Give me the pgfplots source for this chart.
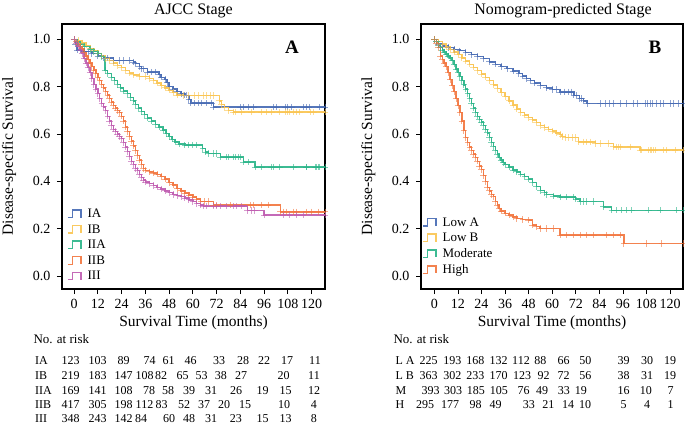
\documentclass[border=0pt]{standalone}
\usepackage{fontspec}
\setmainfont{Liberation Serif}
\usepackage{pgfplots}
\pgfplotsset{compat=1.18}
\definecolor{cblue}{RGB}{68,104,178}
\definecolor{cyellow}{RGB}{250,196,80}
\definecolor{cgreen}{RGB}{40,180,135}
\definecolor{corange}{RGB}{242,116,60}
\definecolor{cpurple}{RGB}{190,90,175}

\pgfplotsset{
  km/.style={
    scale only axis, width=263pt, height=265pt,
    ymin=-0.055, ymax=1.065,
    xtick={0,12,...,120}, ytick={0,0.2,0.4,0.6,0.8,1.0},
    /pgf/number format/assume math mode=true,
    tick label style={font=\fontsize{14}{16}\selectfont},
    xticklabel style={yshift=-2pt},
    yticklabel style={xshift=-3pt, /pgf/number format/fixed, /pgf/number format/fixed zerofill, /pgf/number format/precision=1},
    label style={font=\fontsize{15.5}{18}\selectfont},
    title style={font=\fontsize{16}{19}\selectfont},
    tick align=outside, xtick pos=bottom, ytick pos=left,
    major tick length=5pt,
    tick style={black, line width=0.8pt},
    axis line style={line width=1.1pt},
    xlabel={Survival Time (months)},
    ylabel={Disease-specific Survival},
    xlabel style={at={(axis description cs:0.5,-0.128)}, anchor=center},
    ylabel style={at={(axis description cs:-0.2015,0.5)}, anchor=center},
    legend cell align=left,
    legend style={draw=none, fill=none, font=\fontsize{13}{15.5}\selectfont,
      anchor=north west, row sep=1.5pt, column sep=4pt, inner sep=0pt},
    legend image code/.code={\draw[#1, mark=none] (0pt,-3.5pt) -- (4.5pt,-3.5pt) -- (4.5pt,4pt) -- (13pt,4pt) -- (13pt,-3.5pt);},
  },
  kmline/.style={const plot, line width=1.4pt, draw=#1, draw opacity=0.9,
    mark=+, mark size=3.2pt, mark options={draw=#1, draw opacity=0.6, line width=0.8pt}},
}

\begin{document}
\begin{tikzpicture}
\path[use as bounding box] (0pt,0pt) rectangle (685pt,-433pt);

% ---- panel A: AJCC stage
\begin{axis}[km, at={(62pt,-289pt)}, anchor=south west,
  xmin=-6.1, xmax=126.8,
  title={AJCC Stage},
  title style={at={(axis description cs:0.5,1.049)}, anchor=center, yshift=-6pt},
  legend style={at={(axis description cs:0.019,0.31)}}]
\addplot[kmline=cblue] coordinates {
(0,1.0)(0.8,0.98)(1.5,0.955)(3,0.955)(5,0.948)(7,0.948)(9,0.94)(12,0.93)(15,0.921)(17,0.921)(20,0.911)(23,0.911)(25,0.911)(28,0.911)(30,0.904)(31,0.897)(33,0.886)(34,0.876)(35,0.876)(37,0.862)(39,0.862)(41,0.862)(43,0.852)(44,0.84)(46,0.83)(47,0.818)(48,0.80)(50,0.79)(52,0.78)(54,0.77)(56,0.764)(57,0.764)(58,0.745)(59,0.731)(61,0.731)(63,0.731)(64.5,0.731)(67,0.731)(69.5,0.731)(70.5,0.714)(84,0.714)(85.5,0.714)(88,0.714)(90.6,0.714)(100.7,0.714)(102.4,0.714)(106.6,0.714)(108,0.714)(110,0.714)(115.8,0.714)(117.2,0.714)(118.8,0.714)(124.2,0.714)(126.8,0.714)};
\addlegendentry{IA}
\addplot[kmline=cyellow] coordinates {
(0,1.0)(2,0.995)(4,0.985)(6,0.975)(8,0.962)(10,0.952)(12,0.94)(14,0.93)(16,0.92)(18,0.91)(20,0.90)(22,0.89)(24,0.88)(26,0.868)(28,0.858)(30,0.85)(33,0.843)(36,0.843)(38,0.835)(40,0.825)(42,0.815)(44,0.805)(46,0.795)(48,0.785)(50,0.775)(52,0.765)(55,0.762)(58,0.762)(61,0.762)(63,0.762)(65.3,0.762)(67,0.762)(68.7,0.762)(70.4,0.762)(73.5,0.74)(74.5,0.725)(76,0.712)(78,0.70)(80.5,0.693)(81.3,0.693)(84.7,0.693)(89.7,0.693)(94.8,0.693)(97.3,0.693)(99.8,0.693)(104,0.693)(106.6,0.693)(107.7,0.693)(109,0.693)(110.8,0.693)(112.5,0.693)(114.1,0.693)(119.2,0.693)(120.9,0.693)(126.8,0.693)};
\addlegendentry{IB}
\addplot[kmline=cgreen] coordinates {
(0,1.0)(1.5,0.99)(3,0.98)(5,0.97)(8,0.958)(10,0.948)(12,0.94)(14,0.928)(15.6,0.868)(17,0.855)(19,0.84)(20.5,0.825)(22,0.81)(23.5,0.795)(25,0.782)(27,0.77)(28.5,0.755)(30,0.74)(31,0.725)(32.5,0.71)(34,0.695)(35.5,0.682)(37,0.668)(39,0.655)(41,0.64)(43,0.63)(45,0.617)(46.5,0.603)(48,0.59)(49.5,0.578)(51,0.567)(53,0.558)(56,0.553)(58,0.553)(60,0.553)(62,0.553)(65,0.538)(66.5,0.524)(68,0.518)(70.4,0.518)(72,0.518)(74,0.503)(77.1,0.503)(78,0.503)(80.5,0.503)(81.3,0.503)(83,0.503)(83.8,0.503)(85.5,0.482)(88,0.482)(91.5,0.46)(94.8,0.46)(99.8,0.46)(100.7,0.46)(104,0.46)(110.8,0.46)(117.2,0.46)(117.5,0.46)(121.7,0.46)(122.5,0.46)(123.4,0.46)(124.2,0.46)(126.8,0.46)};
\addlegendentry{IIA}
\addplot[kmline=corange] coordinates {
(0,1.0)(1,0.99)(2,0.98)(3,0.97)(4,0.96)(5,0.945)(6,0.93)(7,0.915)(8,0.90)(9,0.885)(10,0.87)(11,0.855)(12,0.84)(13,0.825)(14,0.81)(15,0.795)(16,0.78)(17,0.765)(18,0.75)(19,0.735)(20,0.72)(21,0.71)(22,0.70)(23,0.69)(24,0.675)(25,0.655)(26,0.63)(27,0.61)(28,0.59)(29,0.57)(30,0.55)(31,0.53)(32,0.51)(33,0.49)(34,0.47)(35,0.455)(36,0.447)(38,0.44)(40,0.435)(42,0.43)(44,0.42)(46,0.41)(48,0.395)(50,0.385)(52,0.37)(54,0.36)(56,0.35)(58,0.342)(60,0.333)(62,0.325)(64,0.314)(66,0.314)(68,0.314)(70.4,0.30)(72,0.30)(78.8,0.30)(88.9,0.30)(90.6,0.30)(94.8,0.30)(98.1,0.30)(104.4,0.271)(105.7,0.271)(107.4,0.271)(110.8,0.271)(112.5,0.271)(117.5,0.271)(120,0.271)(123.4,0.271)(126.8,0.271)};
\addlegendentry{IIB}
\addplot[kmline=cpurple] coordinates {
(0,1.0)(1,0.985)(2,0.97)(3,0.955)(4,0.94)(5,0.92)(6,0.90)(7,0.88)(8,0.86)(9,0.835)(10,0.81)(11,0.79)(12,0.77)(13,0.75)(14,0.73)(15,0.715)(16,0.70)(17,0.675)(18,0.655)(19,0.635)(20,0.62)(21,0.61)(22,0.60)(23,0.59)(24,0.58)(25,0.565)(26,0.545)(27,0.525)(28,0.505)(29,0.485)(30,0.47)(31,0.455)(32,0.445)(33,0.43)(34,0.415)(35,0.405)(36,0.397)(38,0.39)(40,0.383)(42,0.375)(44,0.368)(46,0.36)(48,0.352)(50,0.345)(52,0.34)(54,0.335)(56,0.33)(58,0.322)(60,0.315)(62,0.307)(64,0.30)(65.3,0.295)(67,0.295)(70.4,0.295)(72,0.295)(73.7,0.295)(77.1,0.295)(80.5,0.295)(82.1,0.295)(84.7,0.295)(87.5,0.276)(89.7,0.276)(91.3,0.276)(96,0.257)(105.7,0.257)(109,0.257)(112.5,0.257)(115.8,0.257)(126.8,0.257)};
\addlegendentry{III}
\node[font=\fontsize{19}{22}\selectfont\bfseries] at (axis description cs:0.8745,0.913) {A};
\end{axis}

% ---- panel B: nomogram-predicted stage
\begin{axis}[km, at={(421pt,-289pt)}, anchor=south west, width=262pt,
  xmin=-6.8, xmax=126.6,
  title={Nomogram-predicted Stage},
  title style={at={(axis description cs:0.542,1.049)}, anchor=center, yshift=-6pt},
  legend style={at={(axis description cs:0.004,0.278)}}]
\addplot[kmline=cblue] coordinates {
(0,1.0)(1,0.99)(2,0.98)(4,0.972)(7,0.965)(10,0.958)(13,0.952)(16,0.945)(19,0.935)(22,0.928)(25,0.918)(28,0.905)(31,0.895)(34,0.885)(37,0.876)(40,0.866)(43,0.855)(45,0.845)(47,0.835)(49,0.825)(51,0.815)(54,0.805)(57,0.795)(60,0.788)(62,0.788)(64,0.778)(66,0.778)(68,0.778)(70,0.778)(71,0.764)(72.5,0.764)(74,0.75)(75,0.75)(76,0.74)(77.8,0.729)(84.4,0.729)(86.9,0.729)(89.1,0.729)(91.1,0.729)(94.6,0.729)(97.9,0.729)(101.3,0.729)(103.4,0.729)(107.3,0.729)(108.4,0.729)(109.8,0.729)(111.2,0.729)(113.2,0.729)(114.9,0.729)(116.6,0.729)(120,0.729)(121.7,0.729)(124.2,0.729)(126.6,0.729)};
\addlegendentry{Low A}
\addplot[kmline=cyellow] coordinates {
(0,1.0)(2,0.99)(4,0.98)(6,0.968)(8,0.958)(10,0.947)(12,0.935)(14,0.922)(16,0.908)(18,0.895)(20,0.882)(22,0.868)(24,0.854)(26,0.84)(28,0.825)(30,0.808)(32,0.792)(34,0.775)(36,0.758)(38,0.74)(40,0.722)(42,0.705)(44,0.69)(46,0.68)(48,0.67)(50,0.66)(52,0.648)(54,0.636)(56,0.628)(58,0.62)(60,0.612)(62,0.605)(64,0.598)(65,0.59)(66.7,0.585)(68.4,0.585)(70.1,0.585)(71.8,0.585)(73.3,0.567)(75.9,0.567)(77.6,0.567)(79.3,0.567)(81.9,0.56)(84.4,0.56)(88.7,0.56)(91.3,0.546)(92.9,0.546)(93.8,0.546)(94.6,0.546)(99.7,0.546)(104.8,0.532)(105.6,0.532)(109,0.532)(109.8,0.532)(110.7,0.532)(111.5,0.532)(112.4,0.532)(116.6,0.532)(118.3,0.532)(122.6,0.532)(126.6,0.532)};
\addlegendentry{Low B}
\addplot[kmline=cgreen] coordinates {
(0,1.0)(1,0.99)(2,0.975)(3,0.965)(4,0.955)(5,0.946)(6,0.938)(7,0.93)(8,0.922)(9,0.91)(10,0.895)(11,0.875)(12,0.86)(13,0.842)(14,0.825)(15,0.808)(16,0.79)(17,0.77)(18,0.75)(19,0.73)(20,0.71)(21,0.69)(22,0.675)(23,0.662)(24,0.65)(25,0.635)(26,0.62)(27,0.605)(28,0.585)(29,0.565)(30,0.548)(31,0.53)(32,0.515)(33,0.502)(34,0.49)(35,0.48)(36,0.47)(38,0.46)(40,0.448)(42,0.44)(44,0.43)(46,0.42)(48,0.41)(50,0.395)(52,0.378)(54,0.362)(56,0.352)(57.2,0.345)(60.6,0.338)(64,0.333)(67.4,0.333)(70.8,0.333)(72,0.325)(74.2,0.314)(75.9,0.314)(77.6,0.314)(81,0.314)(86,0.292)(90.3,0.278)(92.9,0.278)(95.4,0.278)(98,0.278)(100.5,0.278)(109,0.278)(114.9,0.278)(123.4,0.278)(126.6,0.278)};
\addlegendentry{Moderate}
\addplot[kmline=corange] coordinates {
(0,1.0)(1,0.985)(2,0.965)(3,0.93)(4,0.915)(5,0.9)(6,0.885)(7,0.86)(8,0.83)(9,0.805)(10,0.78)(11,0.75)(12,0.72)(13,0.69)(14,0.655)(15,0.615)(16,0.585)(17,0.565)(18,0.545)(19,0.53)(20,0.515)(21,0.5)(22,0.485)(23,0.465)(24,0.45)(25,0.425)(26,0.4)(27,0.375)(28,0.36)(29,0.345)(30,0.335)(31,0.315)(32,0.3)(33,0.285)(34,0.275)(36,0.265)(38,0.258)(40,0.25)(42,0.243)(45,0.238)(48,0.236)(50,0.215)(52,0.208)(53.8,0.201)(57.2,0.201)(60.6,0.201)(64,0.173)(67.4,0.173)(70.8,0.173)(74.2,0.173)(77.6,0.173)(81,0.173)(87.8,0.173)(91.1,0.173)(94.5,0.173)(96.5,0.138)(108.1,0.138)(115.8,0.138)(126.6,0.138)};
\addlegendentry{High}
\node[font=\fontsize{19}{22}\selectfont\bfseries] at (axis description cs:0.893,0.913) {B};
\end{axis}

% ---- numbers at risk
\tikzset{risk/.style={font=\fontsize{12}{14}\selectfont, inner sep=0pt}}
\node[risk, anchor=west, font=\fontsize{13}{15}\selectfont] at (33.3pt,-339pt) {No. at risk};
\node[risk, anchor=west, font=\fontsize{13}{15}\selectfont] at (393.3pt,-339pt) {No. at risk};
\foreach \lab/\y in {IA/361, IB/376, IIA/391, IIB/405, III/419}
  \node[risk, anchor=west] at (35pt,-\y pt) {\lab};
\foreach \x/\v in {70.5/123, 97.5/103, 123.5/89, 149.5/74, 168.7/61, 190.5/46, 219/33, 243/28, 264/22, 287/17, 315/11}
  \node[risk] at (\x pt,-361pt) {\v};
\foreach \x/\v in {70.5/219, 97.5/183, 123.7/147, 144.5/108, 161/82, 182.5/65, 201.5/53, 220.8/38, 241/27, 283.5/20, 314/11}
  \node[risk] at (\x pt,-376pt) {\v};
\foreach \x/\v in {70.5/169, 97.5/141, 123.7/108, 149/78, 168/58, 189/39, 211/31, 236/26, 262.5/19, 285.5/15, 314/12}
  \node[risk] at (\x pt,-391pt) {\v};
\foreach \x/\v in {70.5/417, 97.5/305, 123.7/198, 144.5/112, 161.7/83, 184/52, 204/37, 224/20, 245/15, 284/10, 313.8/4}
  \node[risk] at (\x pt,-405pt) {\v};
\foreach \x/\v in {70.5/348, 97.5/243, 123.7/142, 141/84, 169/60, 189/48, 211/31, 235.8/23, 262.5/15, 285.5/13, 313.8/8}
  \node[risk] at (\x pt,-419pt) {\v};
\foreach \lab/\y in {L A/361, L B/376, M/390.7, H/404.7}
  \node[risk, anchor=west] at (395.3pt,-\y pt) {\lab};
\foreach \x/\v in {428.7/225, 452.3/193, 475.3/168, 498.7/132, 521/112, 540.3/88, 563.7/66, 585.3/50, 623.7/39, 647/30, 670/19}
  \node[risk] at (\x pt,-361pt) {\v};
\foreach \x/\v in {428.7/363, 452.3/302, 475.3/233, 498.7/170, 522/123, 543.7/92, 563.7/72, 585.3/56, 623.7/38, 647/31, 670/19}
  \node[risk] at (\x pt,-376pt) {\v};
\foreach \x/\v in {430.5/393, 453/303, 475.8/185, 498.8/105, 523.5/76, 542.2/49, 563.8/33, 580.8/19, 623.7/16, 645.8/10, 670.5/7}
  \node[risk] at (\x pt,-390.7pt) {\v};
\foreach \x/\v in {425.2/295, 450.2/177, 475.5/98, 495.5/49, 528.8/33, 548.3/21, 568.2/14, 585/10, 623.5/5, 647/4, 670.5/1}
  \node[risk] at (\x pt,-404.7pt) {\v};
\end{tikzpicture}
\end{document}
